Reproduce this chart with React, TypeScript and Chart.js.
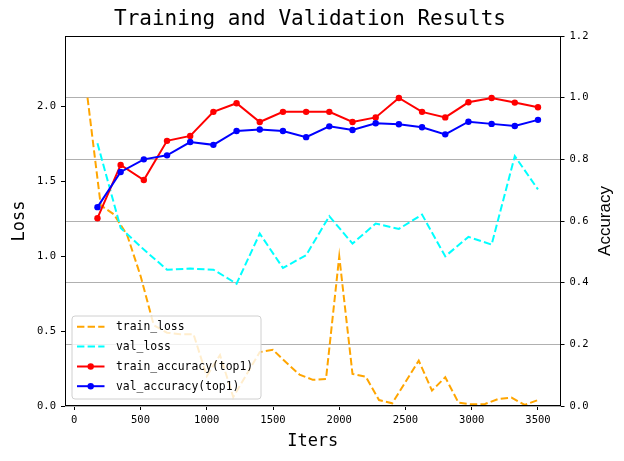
import React, { useEffect, useRef } from "react";
import { Chart, registerables } from "chart.js";

Chart.register(...registerables);

// ---------- data ----------
const trainIters = [
  100, 200, 300, 400, 500, 600, 700, 800, 900, 1000, 1100, 1200, 1300, 1400, 1500, 1600, 1700,
  1800, 1900, 2000, 2100, 2200, 2300, 2400, 2500, 2600, 2700, 2800, 2900, 3000, 3100, 3200, 3300,
  3400, 3500,
];
const trainLoss = [
  2.06, 1.34, 1.28, 1.14, 0.87, 0.54, 0.49, 0.48, 0.48, 0.2, 0.34, 0.06, 0.21, 0.36, 0.375, 0.29,
  0.21, 0.175, 0.18, 1.0, 0.214, 0.196, 0.04, 0.018, 0.16, 0.303, 0.103, 0.192, 0.022, 0.011, 0.013,
  0.047, 0.056, 0.007, 0.04,
];
const evalIters = [
  175, 350, 525, 700, 875, 1050, 1225, 1400, 1575, 1750, 1925, 2100, 2275, 2450, 2625, 2800, 2975,
  3150, 3325, 3500,
];
const valLoss = [
  1.755, 1.19, 1.045, 0.911, 0.918, 0.911, 0.817, 1.152, 0.922, 1.008, 1.268, 1.085, 1.219, 1.183,
  1.279, 1.0, 1.13, 1.078, 1.67, 1.447,
];
const trainAcc = [
  0.609, 0.782, 0.733, 0.86, 0.876, 0.954, 0.982, 0.921, 0.954, 0.954, 0.954, 0.921, 0.936, 0.999,
  0.954, 0.936, 0.985, 0.999, 0.984, 0.969,
];
const valAcc = [
  0.645, 0.759, 0.8, 0.813, 0.856, 0.847, 0.892, 0.897, 0.892, 0.872, 0.907, 0.895, 0.917, 0.914,
  0.904, 0.881, 0.922, 0.915, 0.908, 0.928,
];
const xTicks = [0, 500, 1000, 1500, 2000, 2500, 3000, 3500];
const lossTicks = [0, 0.5, 1.0, 1.5, 2.0];
const accTicks = [0, 0.2, 0.4, 0.6, 0.8, 1.0, 1.2];
const seriesNames = ["train_loss", "val_loss", "train_accuracy(top1)", "val_accuracy(top1)"];
const titleText = "Training and Validation Results";

const MONO = "'DejaVu Sans Mono', 'Liberation Mono', monospace";
const SANS = "'Liberation Sans', 'DejaVu Sans', sans-serif";
const DASH = [7.4, 3.2];
const COLORS = ["#FFA500", "#00FFFF", "#FF0000", "#0000FF"];

export default function App() {
  const ref = useRef<HTMLCanvasElement>(null);

  useEffect(() => {
    const canvas = ref.current;
    if (!canvas) return;

    const decor = {
      id: "decor",
      afterDatasetsDraw(chart: any) {
        const { ctx, chartArea: a } = chart;
        ctx.save();
        ctx.strokeStyle = "#000";
        ctx.lineWidth = 1;
        const l = Math.round(a.left) + 0.5;
        const t = Math.round(a.top) + 0.5;
        const r = Math.round(a.right) - 0.5;
        const b = Math.round(a.bottom) - 0.5;
        ctx.strokeRect(l, t, r - l, b - t);
        ctx.restore();
      },
      afterDraw(chart: any) {
        const { ctx, chartArea: a } = chart;
        ctx.save();
        // title
        ctx.fillStyle = "#000";
        ctx.font = `21px ${MONO}`;
        ctx.textAlign = "center";
        ctx.textBaseline = "alphabetic";
        ctx.fillText(titleText, 310, 25);

        // axis titles
        const cy = (a.top + a.bottom) / 2;
        ctx.font = `17px ${MONO}`;
        ctx.textBaseline = "middle";
        ctx.fillText("Iters", (a.left + a.right) / 2, 442);
        ctx.save();
        ctx.translate(20, cy);
        ctx.rotate(-Math.PI / 2);
        ctx.fillText("Loss", 0, 0);
        ctx.restore();
        ctx.save();
        ctx.font = `17px ${SANS}`;
        ctx.translate(605, cy);
        ctx.rotate(-Math.PI / 2);
        ctx.fillText("Accuracy", 0, 0);
        ctx.restore();

        // legend
        const lx = 72, ly = 316, lw = 189, lh = 83, rad = 3;
        ctx.beginPath();
        ctx.moveTo(lx + rad, ly);
        ctx.lineTo(lx + lw - rad, ly);
        ctx.quadraticCurveTo(lx + lw, ly, lx + lw, ly + rad);
        ctx.lineTo(lx + lw, ly + lh - rad);
        ctx.quadraticCurveTo(lx + lw, ly + lh, lx + lw - rad, ly + lh);
        ctx.lineTo(lx + rad, ly + lh);
        ctx.quadraticCurveTo(lx, ly + lh, lx, ly + lh - rad);
        ctx.lineTo(lx, ly + rad);
        ctx.quadraticCurveTo(lx, ly, lx + rad, ly);
        ctx.closePath();
        ctx.fillStyle = "rgba(255,255,255,0.8)";
        ctx.fill();
        ctx.strokeStyle = "#d0d0d0";
        ctx.lineWidth = 1;
        ctx.stroke();

        const rows = [326.7, 346.4, 366.5, 386.2];
        seriesNames.forEach((name, i) => {
          const y = rows[i];
          ctx.strokeStyle = COLORS[i];
          ctx.lineWidth = 2;
          ctx.setLineDash(i < 2 ? DASH : []);
          ctx.beginPath();
          ctx.moveTo(77, y);
          ctx.lineTo(104.5, y);
          ctx.stroke();
          ctx.setLineDash([]);
          if (i >= 2) {
            ctx.fillStyle = COLORS[i];
            ctx.beginPath();
            ctx.arc(90.7, y, 3.2, 0, Math.PI * 2);
            ctx.fill();
          }
          ctx.fillStyle = "#000";
          ctx.font = `11.4px ${MONO}`;
          ctx.textAlign = "left";
          ctx.textBaseline = "middle";
          ctx.fillText(name, 116, y + 0.5);
        });
        ctx.restore();
      },
    };

    const tickFont = { family: MONO, size: 10.5 };

    const chart = new Chart(canvas, {
      type: "line",
      data: {
        datasets: [
          {
            label: seriesNames[0],
            data: trainIters.map((x, i) => ({ x, y: trainLoss[i] })),
            yAxisID: "yLoss",
            borderColor: COLORS[0],
            backgroundColor: COLORS[0],
            borderWidth: 2,
            borderDash: DASH,
            pointRadius: 0,
            tension: 0,
            order: 4,
          },
          {
            label: seriesNames[1],
            data: evalIters.map((x, i) => ({ x, y: valLoss[i] })),
            yAxisID: "yLoss",
            borderColor: COLORS[1],
            backgroundColor: COLORS[1],
            borderWidth: 2,
            borderDash: DASH,
            pointRadius: 0,
            tension: 0,
            order: 3,
          },
          {
            label: seriesNames[2],
            data: evalIters.map((x, i) => ({ x, y: trainAcc[i] })),
            yAxisID: "yAcc",
            borderColor: COLORS[2],
            backgroundColor: COLORS[2],
            borderWidth: 2,
            pointRadius: 3.2,
            pointBorderWidth: 0,
            pointBackgroundColor: COLORS[2],
            tension: 0,
            order: 2,
          },
          {
            label: seriesNames[3],
            data: evalIters.map((x, i) => ({ x, y: valAcc[i] })),
            yAxisID: "yAcc",
            borderColor: COLORS[3],
            backgroundColor: COLORS[3],
            borderWidth: 2,
            pointRadius: 3.2,
            pointBorderWidth: 0,
            pointBackgroundColor: COLORS[3],
            tension: 0,
            order: 1,
          },
        ],
      },
      options: {
        responsive: false,
        animation: false,
        devicePixelRatio: 1,
        layout: { padding: { top: 36, left: 0, right: 0, bottom: 0 } },
        plugins: {
          legend: { display: false },
          title: { display: false },
          tooltip: { enabled: false },
        },
        scales: {
          x: {
            type: "linear",
            min: -70,
            max: 3670,
            afterBuildTicks: (s: any) => {
              s.ticks = xTicks.map((v) => ({ value: v }));
            },
            afterFit: (s: any) => {
              s.height = 55;
            },
            grid: {
              drawOnChartArea: false,
              drawTicks: true,
              tickLength: 4,
              tickColor: "#000",
              tickWidth: 1,
            },
            border: { display: false },
            ticks: {
              color: "#000",
              font: tickFont,
              padding: 4,
              maxRotation: 0,
              autoSkip: false,
              callback: (v: any) => String(v),
            },
          },
          yLoss: {
            type: "linear",
            position: "left",
            min: 0,
            max: 2.472,
            afterBuildTicks: (s: any) => {
              s.ticks = lossTicks.map((v) => ({ value: v }));
            },
            afterFit: (s: any) => {
              s.width = 65;
            },
            grid: {
              drawOnChartArea: false,
              drawTicks: true,
              tickLength: 4,
              tickColor: "#000",
            },
            border: { display: false },
            ticks: {
              color: "#000",
              font: tickFont,
              padding: 5,
              autoSkip: false,
              callback: (v: any) => Number(v).toFixed(1),
            },
          },
          yAcc: {
            type: "linear",
            position: "right",
            min: 0,
            max: 1.2,
            afterBuildTicks: (s: any) => {
              s.ticks = accTicks.map((v) => ({ value: v }));
            },
            afterFit: (s: any) => {
              s.width = 63.5;
            },
            grid: {
              drawOnChartArea: true,
              color: "#b0b0b0",
              lineWidth: 1,
              drawTicks: true,
              tickLength: 4,
              tickColor: "#000",
            },
            border: { display: false },
            ticks: {
              color: "#000",
              font: tickFont,
              padding: 5,
              autoSkip: false,
              callback: (v: any) => Number(v).toFixed(1),
            },
          },
        },
      } as any,
      plugins: [decor],
    });

    return () => chart.destroy();
  }, []);

  return (
    <div style={{ position: "absolute", left: 0, top: 0, width: 624, height: 461, background: "#fff" }}>
      <canvas ref={ref} width={624} height={461} style={{ display: "block" }} />
    </div>
  );
}
